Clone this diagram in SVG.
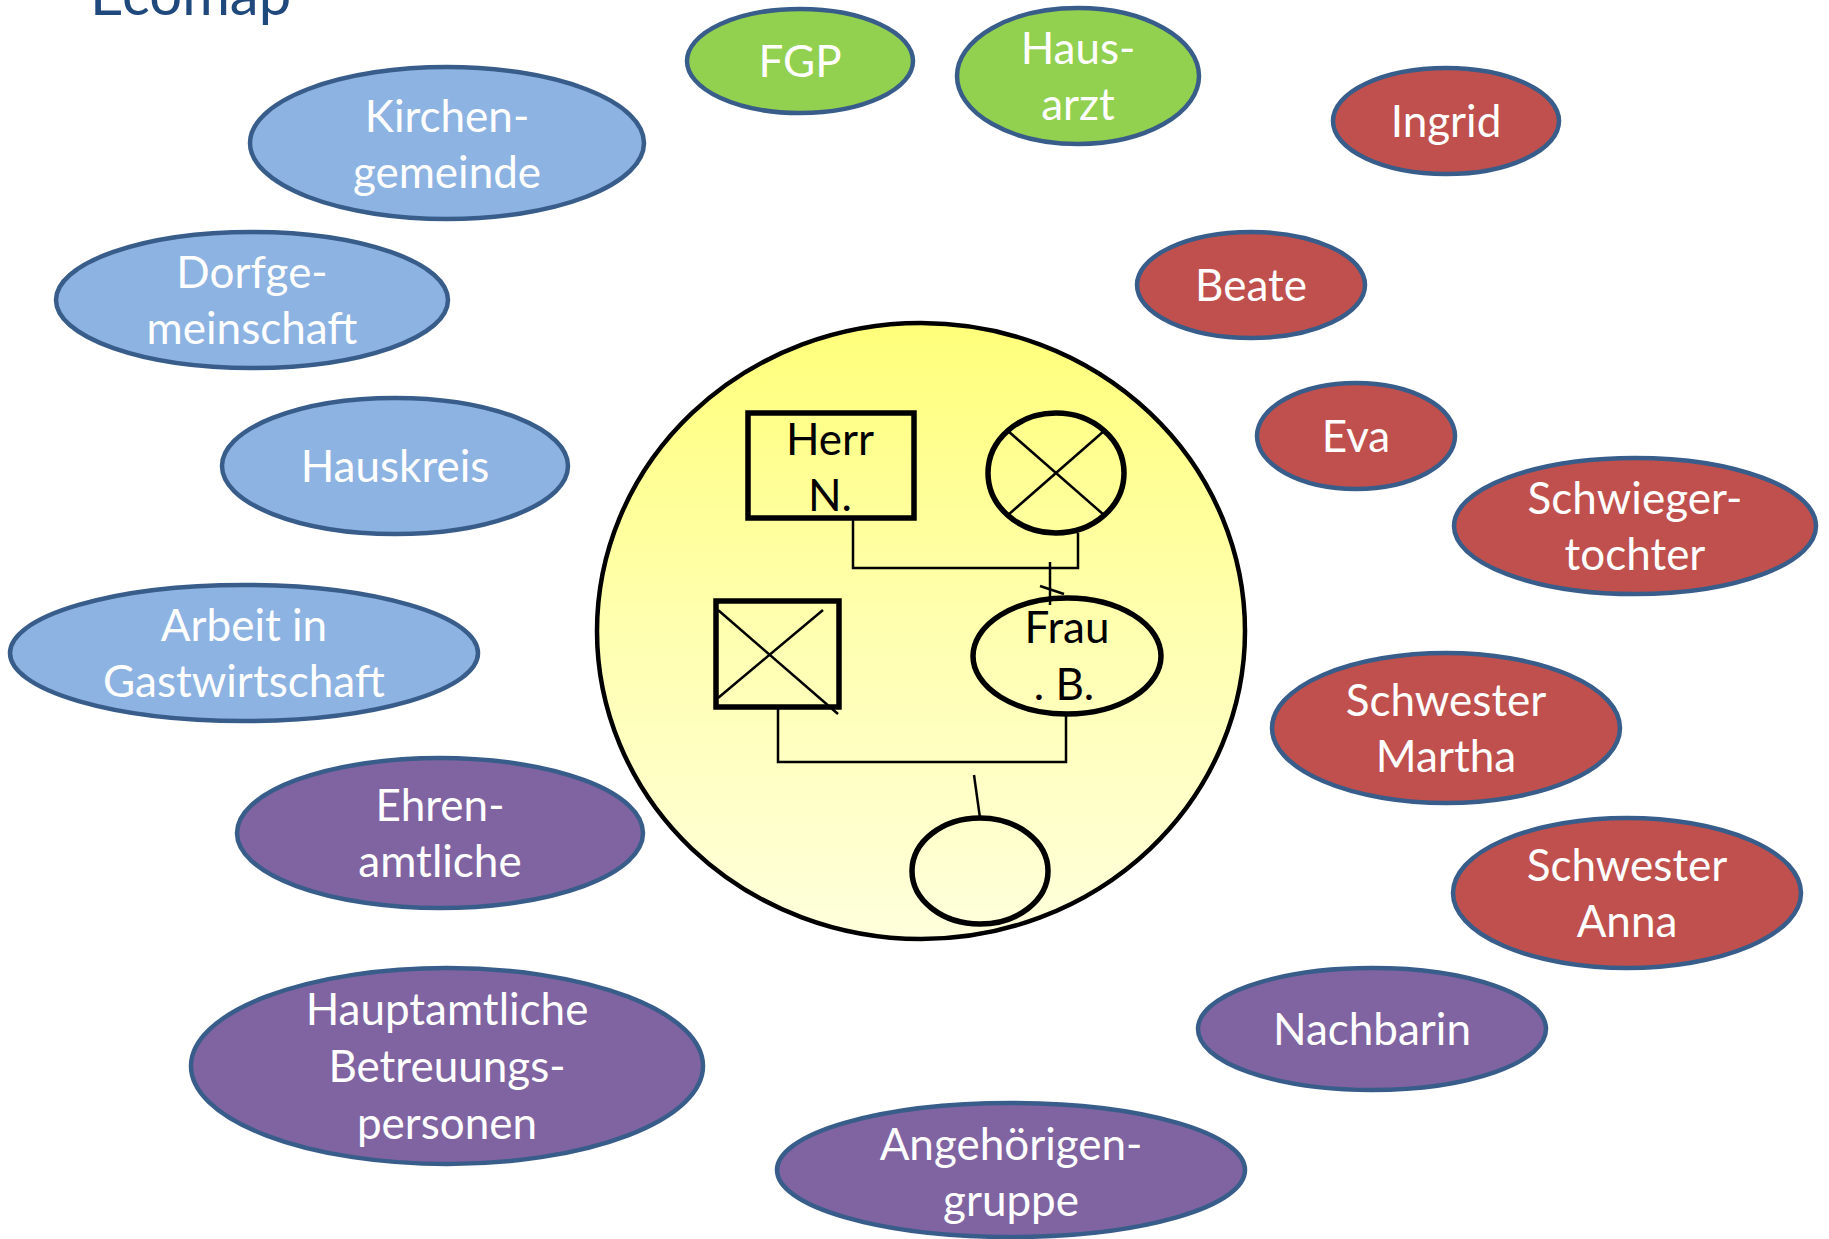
<svg xmlns="http://www.w3.org/2000/svg" width="1829" height="1239" viewBox="0 0 1829 1239">
<defs>
<linearGradient id="yg" x1="0" y1="0" x2="0" y2="1">
<stop offset="0" stop-color="#FFFF7A"/>
<stop offset="0.5" stop-color="#FFFFB0"/>
<stop offset="1" stop-color="#FFFFDC"/>
</linearGradient>
<style>
.n{stroke:#385D8A;stroke-width:4.5}
.blue{fill:#8DB3E2}
.green{fill:#92D050}
.red{fill:#C0504D}
.purple{fill:#8064A2}
.t{font-family:Lato,"Open Sans",sans-serif;font-size:44px;fill:#FFFFFF;text-anchor:middle}
.k{font-family:Lato,"Open Sans",sans-serif;font-size:44px;fill:#000000;text-anchor:middle}
.sym{fill:none;stroke:#000;stroke-width:5.5}
.ln{fill:none;stroke:#000;stroke-width:2.5}
</style>
</defs>
<rect width="1829" height="1239" fill="#FFFFFF"/>
<text x="90" y="15" font-family="Lato,'Open Sans',sans-serif" font-size="58" fill="#1F497D">Ecomap</text>

<g id="center">
<ellipse cx="921" cy="631" rx="324" ry="308" fill="url(#yg)" stroke="#000" stroke-width="4.5"/>
</g>

<g id="herr-n">
<rect x="748" y="413" width="166" height="105" class="sym"/>
<text x="830" y="455" class="k">Herr</text>
<text x="830" y="511" class="k">N.</text>
</g>
<g id="deceased-female">
<ellipse cx="1056" cy="473" rx="68" ry="60" class="sym" stroke-width="5"/>
<line x1="1008" y1="431" x2="1104" y2="515" class="ln"/>
<line x1="1104" y1="431" x2="1008" y2="515" class="ln"/>
</g>
<g id="deceased-male">
<rect x="716" y="601" width="123" height="106" class="sym"/>
<line x1="718" y1="610" x2="838" y2="714" class="ln"/>
<line x1="718" y1="698" x2="823" y2="610" class="ln"/>
</g>
<g id="frau-b">
<ellipse cx="1067" cy="656" rx="94" ry="58" class="sym" stroke-width="5"/>
<text x="1067" y="643" class="k">Frau</text>
<text x="1064" y="700" class="k">. B.</text>
</g>
<g id="child">
<ellipse cx="980" cy="871" rx="68" ry="53" class="sym" stroke-width="5"/>
</g>

<g id="connectors">
<polyline points="853,518 853,568 1078,568 1078,533" class="ln"/>
<line x1="1050" y1="562" x2="1050" y2="605" class="ln" stroke-width="3"/>
<line x1="1040" y1="586" x2="1064" y2="594" class="ln"/>
<polyline points="778,707 778,762 1066,762 1066,714" class="ln"/>
<line x1="974" y1="775" x2="980" y2="818" class="ln"/>
</g>

<g id="fgp"><ellipse cx="800" cy="61" rx="113" ry="52" class="n green"/><text x="800" y="77" class="t">FGP</text></g>
<g id="hausarzt"><ellipse cx="1078" cy="76" rx="121" ry="68" class="n green"/><text x="1078" y="64" class="t">Haus-</text><text x="1078" y="120" class="t">arzt</text></g>
<g id="ingrid"><ellipse cx="1446" cy="121" rx="113" ry="53" class="n red"/><text x="1446" y="137" class="t">Ingrid</text></g>
<g id="kirchengemeinde"><ellipse cx="447" cy="143" rx="197" ry="76" class="n blue"/><text x="447" y="132" class="t">Kirchen-</text><text x="447" y="188" class="t">gemeinde</text></g>
<g id="dorfgemeinschaft"><ellipse cx="252" cy="300" rx="196" ry="68" class="n blue"/><text x="252" y="288" class="t">Dorfge-</text><text x="252" y="344" class="t">meinschaft</text></g>
<g id="hauskreis"><ellipse cx="395" cy="466" rx="173" ry="68" class="n blue"/><text x="395" y="482" class="t">Hauskreis</text></g>
<g id="arbeit"><ellipse cx="244" cy="653" rx="234" ry="68" class="n blue"/><text x="244" y="641" class="t">Arbeit in</text><text x="244" y="697" class="t">Gastwirtschaft</text></g>
<g id="ehrenamtliche"><ellipse cx="440" cy="833" rx="203" ry="75" class="n purple"/><text x="440" y="821" class="t">Ehren-</text><text x="440" y="877" class="t">amtliche</text></g>
<g id="hauptamtliche"><ellipse cx="447" cy="1066" rx="256" ry="98" class="n purple"/><text x="447" y="1025" class="t">Hauptamtliche</text><text x="447" y="1082" class="t">Betreuungs-</text><text x="447" y="1139" class="t">personen</text></g>
<g id="angehoerigengruppe"><ellipse cx="1011" cy="1170" rx="234" ry="67" class="n purple"/><text x="1011" y="1160" class="t">Angehörigen-</text><text x="1011" y="1216" class="t">gruppe</text></g>
<g id="nachbarin"><ellipse cx="1372" cy="1029" rx="174" ry="61" class="n purple"/><text x="1372" y="1045" class="t">Nachbarin</text></g>
<g id="beate"><ellipse cx="1251" cy="285" rx="114" ry="53" class="n red"/><text x="1251" y="301" class="t">Beate</text></g>
<g id="eva"><ellipse cx="1356" cy="436" rx="99" ry="53" class="n red"/><text x="1356" y="452" class="t">Eva</text></g>
<g id="schwiegertochter"><ellipse cx="1635" cy="526" rx="181" ry="68" class="n red"/><text x="1635" y="514" class="t">Schwieger-</text><text x="1635" y="570" class="t">tochter</text></g>
<g id="martha"><ellipse cx="1446" cy="728" rx="174" ry="75" class="n red"/><text x="1446" y="716" class="t">Schwester</text><text x="1446" y="772" class="t">Martha</text></g>
<g id="anna"><ellipse cx="1627" cy="893" rx="174" ry="75" class="n red"/><text x="1627" y="881" class="t">Schwester</text><text x="1627" y="937" class="t">Anna</text></g>
</svg>
